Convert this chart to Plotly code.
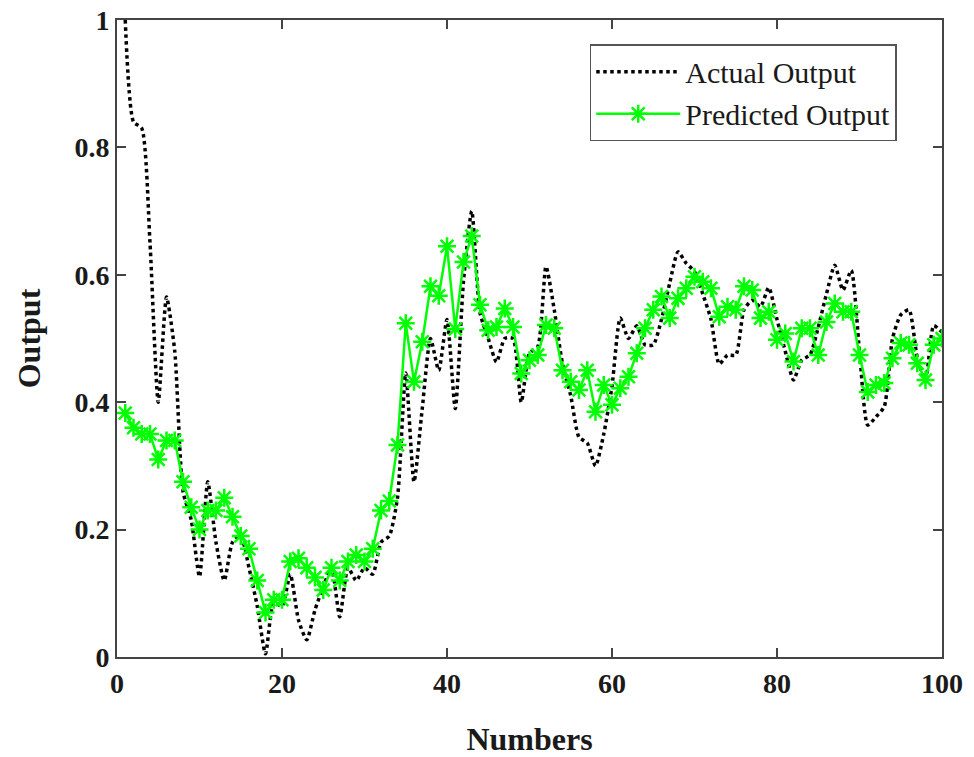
import plotly.graph_objects as go

numbers = list(range(1, 101))

actual_output = [
    1.00, 0.84, 0.83, 0.65, 0.40, 0.565, 0.48, 0.26, 0.215, 0.126,
    0.275, 0.18, 0.12, 0.18, 0.19, 0.14, 0.08, 0.005, 0.085, 0.08,
    0.13, 0.058, 0.027, 0.074, 0.11, 0.14, 0.063, 0.14, 0.12, 0.14,
    0.13, 0.18, 0.19, 0.25, 0.446, 0.275, 0.39, 0.50, 0.45, 0.53,
    0.39, 0.59, 0.70, 0.54, 0.50, 0.463, 0.50, 0.50, 0.40, 0.477,
    0.487, 0.613, 0.545, 0.46, 0.41, 0.345, 0.336, 0.30, 0.35, 0.425,
    0.532, 0.50, 0.52, 0.49, 0.49, 0.53, 0.587, 0.636, 0.618, 0.605,
    0.57, 0.53, 0.46, 0.474, 0.474, 0.545, 0.56, 0.55, 0.58, 0.53,
    0.48, 0.435, 0.466, 0.474, 0.518, 0.57, 0.615, 0.576, 0.607, 0.48,
    0.364, 0.377, 0.393, 0.50, 0.537, 0.545, 0.47, 0.435, 0.52, 0.51,
]

predicted_output = [
    0.383, 0.36, 0.35, 0.35, 0.31, 0.34, 0.34, 0.275, 0.235, 0.20,
    0.23, 0.23, 0.25, 0.22, 0.19, 0.17, 0.12, 0.07, 0.09, 0.09,
    0.15, 0.155, 0.14, 0.125, 0.105, 0.14, 0.12, 0.15, 0.16, 0.15,
    0.17, 0.23, 0.245, 0.333, 0.524, 0.432, 0.495, 0.582, 0.567, 0.645,
    0.515, 0.62, 0.661, 0.553, 0.513, 0.518, 0.547, 0.518, 0.445, 0.466,
    0.474, 0.521, 0.516, 0.45, 0.432, 0.419, 0.45, 0.385, 0.427, 0.396,
    0.422, 0.44, 0.477, 0.516, 0.545, 0.566, 0.532, 0.563, 0.579, 0.597,
    0.589, 0.579, 0.534, 0.55, 0.545, 0.582, 0.576, 0.532, 0.542, 0.498,
    0.508, 0.464, 0.516, 0.516, 0.474, 0.526, 0.555, 0.542, 0.542, 0.474,
    0.416, 0.427, 0.43, 0.469, 0.493, 0.49, 0.461, 0.435, 0.49, 0.50,
]

x_ticks = [0, 20, 40, 60, 80, 100]
y_ticks = [0, 0.2, 0.4, 0.6, 0.8, 1]
y_tick_labels = ["0", "0.2", "0.4", "0.6", "0.8", "1"]

serif = "Liberation Serif, Times New Roman, serif"

fig = go.Figure()
fig.add_trace(go.Scatter(
    x=numbers, y=actual_output, mode="lines", name="Actual Output",
    line=dict(color="black", width=3.5, dash="dot", shape="spline", smoothing=0.6),
))
fig.add_trace(go.Scatter(
    x=numbers, y=predicted_output, mode="lines+markers", name="Predicted Output",
    line=dict(color="#00ff00", width=2.5),
    marker=dict(symbol="asterisk-open", size=15, color="#00ff00",
                line=dict(color="#00ff00", width=2.5)),
))

axis_common = dict(
    showline=True, linecolor="#444444", linewidth=2, mirror="ticks",
    ticks="inside", ticklen=9, tickcolor="#444444", tickwidth=1.5,
    showgrid=False, zeroline=False, automargin=False,
    tickfont=dict(family=serif, size=28, color="#1a1a1a"),
)

fig.update_layout(
    width=974, height=757,
    margin=dict(l=117, r=32, t=20, b=100),
    paper_bgcolor="white", plot_bgcolor="white",
    xaxis=dict(range=[0, 100], tickvals=x_ticks, ticktext=[f"<b>{v}</b>" for v in x_ticks],
               title=dict(text="<b>Numbers</b>", font=dict(family=serif, size=32, color="#1a1a1a"),
                          standoff=30),
               **axis_common),
    yaxis=dict(range=[0, 1], tickvals=y_ticks, ticktext=[f"<b>{t}</b>" for t in y_tick_labels],
               title=dict(text="<b>Output</b>", font=dict(family=serif, size=32, color="#1a1a1a"),
                          standoff=24),
               **axis_common),
    legend=dict(
        x=0.573, y=0.962, xanchor="left", yanchor="top",
        bgcolor="white", bordercolor="#555555", borderwidth=1.5,
        font=dict(family=serif, size=30, color="#1a1a1a"),
        itemwidth=84, tracegroupgap=0,
    ),
    showlegend=True,
)

fig.write_html("out.html")
